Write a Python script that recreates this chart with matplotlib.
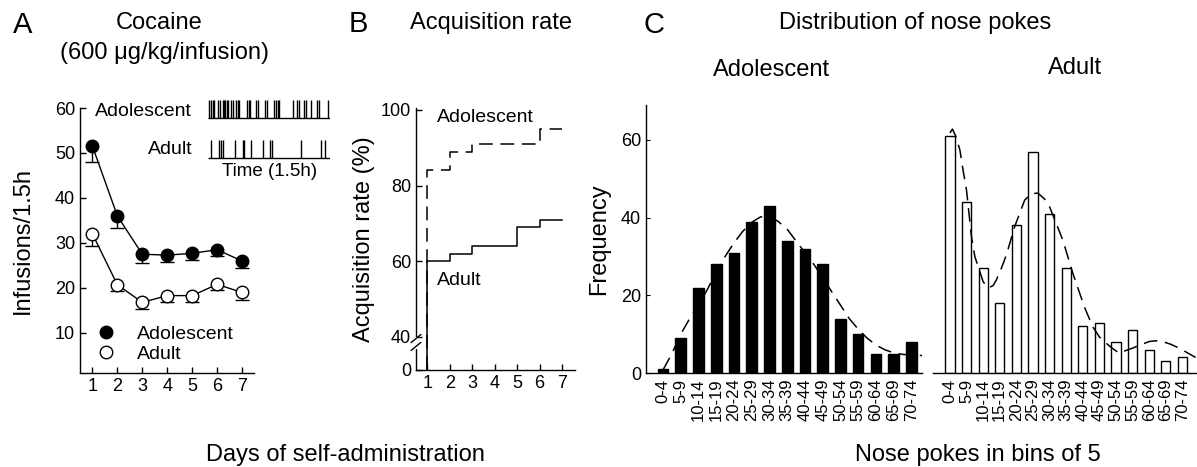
import numpy as np
import matplotlib
matplotlib.use("Agg")
import matplotlib.pyplot as plt
from matplotlib.lines import Line2D

plt.rcParams['font.family'] = ['Liberation Sans', 'DejaVu Sans']
plt.rcParams['axes.linewidth'] = 1.0

# Panel A: infusions per 1.5 h session (mean, lower SEM)
days = [1, 2, 3, 4, 5, 6, 7]
adol_inf = [51.5, 36.0, 27.5, 27.3, 27.7, 28.5, 26.0]
adol_sem = [3.5, 2.7, 2.0, 1.6, 1.5, 1.5, 1.5]
adult_inf = [32.0, 20.7, 16.8, 18.3, 18.3, 20.8, 19.0]
adult_sem = [2.7, 1.4, 1.5, 1.5, 1.5, 1.3, 1.6]

# Panel A inset: example infusion times (min within the 90 min session)
adol_times = [1.0, 2.2, 3.4, 4.7, 7.6, 8.8, 10.8, 11.8, 12.8, 13.8, 14.7, 17.0,
              18.2, 20.6, 22.1, 23.1, 28.5, 30.0, 31.0, 35.4, 37.1, 41.8, 43.3,
              48.7, 50.1, 51.6, 52.6, 62.4, 65.9, 67.4, 70.8, 72.3, 75.7, 80.6,
              81.6, 88.3]
adult_times = [2.2, 8.4, 9.6, 10.8, 19.9, 25.6, 26.8, 31.7, 40.8, 45.7, 47.2,
               68.6, 83.1, 86.5]

# Panel B: cumulative acquisition rate (%)
adol_acq = [84, 89, 91, 91, 91, 95, 95]
adult_acq = [60, 62, 64, 64, 69, 71, 71]

# Panel C: nose poke distribution
bin_labels = ['0-4', '5-9', '10-14', '15-19', '20-24', '25-29', '30-34', '35-39',
              '40-44', '45-49', '50-54', '55-59', '60-64', '65-69', '70-74']
adol_freq = [1, 9, 22, 28, 31, 39, 43, 34, 32, 28, 14, 10, 5, 5, 8]
adult_freq = [61, 44, 27, 18, 38, 57, 41, 27, 12, 13, 8, 11, 6, 3, 4]

# fitted curves (x in bin units)
adol_fit_x = [0, 0.5, 1, 1.5, 2, 2.5, 3, 3.5, 4, 4.5, 5, 5.5, 6, 6.5, 7, 7.5, 8,
              8.5, 9, 9.5, 10, 10.5, 11, 11.5, 12, 12.5, 13, 13.5, 14, 14.6]
adol_fit_y = [0.8, 5, 10, 14, 17.5, 21.5, 26, 30, 33.5, 36.5, 38.8, 40.2, 40.3,
              39, 37, 34, 31, 28, 24.5, 21, 17.5, 14, 11.3, 9, 7.2, 6, 5.2, 4.8,
              4.6, 4.5]
adult_fit_x = [0, 0.15, 0.35, 0.6, 0.8, 1.0, 1.3, 1.5, 1.7, 2.0, 2.3, 2.6, 2.8,
               3.1, 3.4, 3.9, 4.5, 4.9, 5.3, 5.7, 6.0, 6.4, 6.8, 7.4, 8.1, 8.6,
               9.0, 9.4, 9.8, 10.2, 10.6, 11.0, 11.5, 12.0, 12.4, 12.8, 13.3,
               13.8, 14.3, 14.8]
adult_fit_y = [61.8, 62.8, 61, 57.4, 52, 47, 35, 30, 27.4, 23.5, 21.9, 22.5, 24,
               27, 30.4, 37.7, 44.5, 46.2, 46.3, 44.8, 42.8, 38.5, 34.2, 25.7,
               17, 11.9, 9.3, 7.7, 6.3, 5.1, 5.8, 6.4, 7.3, 8.1, 8.3, 8.1, 7.4,
               6.4, 5.2, 4.0]

W, H = 1197, 467
fig = plt.figure(figsize=(W / 100, H / 100), dpi=100)


def px_axes(x0, y0, x1, y1):
    # axes from pixel box (top-left origin)
    return fig.add_axes([x0 / W, 1 - y1 / H, (x1 - x0) / W, (y1 - y0) / H])


def ftext(x, y, s, **kw):
    fig.text(x / W, 1 - y / H, s, **kw)


# ---------------- Panel A ----------------
axA = px_axes(80, 108, 254, 373)
for mean, sem in ((adol_inf, adol_sem), (adult_inf, adult_sem)):
    low = np.array(mean) - np.array(sem)
    # only the lower half of the error bar is drawn
    axA.vlines(days, low, mean, color='k', lw=1, zorder=1)
    axA.plot(days, low, ls='none', marker='_', ms=10, mew=1, color='k', zorder=1)
axA.plot(days, adol_inf, '-o', color='k', mfc='k', mec='k', ms=9, lw=1, zorder=3)
axA.plot(days, adult_inf, '-o', color='k', mfc='white', mec='k', ms=9, mew=1, lw=1, zorder=3)
axA.set_xlim(0.5, 7.48)
axA.set_ylim(1.1, 60)
axA.set_xticks(days)
axA.set_yticks([10, 20, 30, 40, 50, 60])
axA.tick_params(direction='in', length=4, labelsize=13, width=1)
axA.spines[['top', 'right']].set_visible(False)
axA.set_ylabel('Infusions/1.5h', fontsize=17, labelpad=15)
handles = [Line2D([], [], ls='none', marker='o', ms=9, mfc='k', mec='k'),
           Line2D([], [], ls='none', marker='o', ms=9, mfc='white', mec='k')]
axA.legend(handles, ['Adolescent', 'Adult'], loc='center left',
           bbox_to_anchor=(96 / W, 1 - 344 / H), bbox_transform=fig.transFigure,
           frameon=False, fontsize=14, handlelength=1.0, handletextpad=1.1,
           labelspacing=0.15, borderpad=0, borderaxespad=0)

# raster inset
axR = px_axes(208, 100, 330, 160)
axR.eventplot([adol_times, adult_times], lineoffsets=[51, 11], linelengths=18,
              colors='k', linewidths=1)
axR.hlines([42, 2], 0, 90, color='k', lw=1)
axR.set_xlim(0, 90)
axR.set_ylim(0, 60)
axR.axis('off')
ftext(192, 111, 'Adolescent', fontsize=14, ha='right', va='center')
ftext(193, 149, 'Adult', fontsize=14, ha='right', va='center')
ftext(270, 172, 'Time (1.5h)', fontsize=13.5, ha='center', va='center')

# ---------------- Panel B ----------------
def brk(v):
    # compress the 0-40 range below the axis break
    v = np.asarray(v, dtype=float)
    return np.where(v >= 40, v, 40 - (40 - v) * 8.72 / 40)


axB = px_axes(416, 108, 575, 370)
xb = [1] + days
axB.step(xb, brk([0] + adult_acq), where='post', color='k', lw=1.1)
axB.step(xb, brk([0] + adol_acq), where='post', color='k', lw=1.1,
         ls=(0, (9, 5)))
axB.set_xlim(0.5, 7.58)
axB.set_ylim(brk(0), 100.5)
axB.set_xticks(days)
yt = [0, 40, 60, 80, 100]
axB.set_yticks(brk(yt))
axB.set_yticklabels([str(v) for v in yt])
axB.tick_params(direction='in', length=4, labelsize=13, width=1)
axB.spines[['top', 'right']].set_visible(False)
axB.set_ylabel('Acquisition rate (%)', fontsize=17, labelpad=4)
axB.text(1.44, 97.9, 'Adolescent', fontsize=14, ha='left', va='center')
axB.text(1.44, 54.8, 'Adult', fontsize=14, ha='left', va='center')
# axis break marks
axB.plot([0, 0], [0.088, 0.118], transform=axB.transAxes, color='white',
         lw=3, clip_on=False, zorder=5)
for dy in (0.0, 0.03):
    axB.plot([-0.03, 0.03], [0.075 + dy, 0.105 + dy], transform=axB.transAxes,
             color='k', lw=1, clip_on=False, zorder=6)

# ---------------- Panel C ----------------
bins = np.arange(len(bin_labels))
axC1 = px_axes(646, 105, 922, 373)
axC1.bar(bins, adol_freq, width=0.6, color='k', edgecolor='k', zorder=2)
axC1.plot(adol_fit_x, adol_fit_y, color='k', lw=1.1, ls=(0, (9, 5)), zorder=3)
axC1.set_xlim(-0.96, 14.6)
axC1.set_ylim(0, 69)
axC1.set_yticks([0, 20, 40, 60])
axC1.set_xticks(bins)
axC1.set_xticklabels(bin_labels, rotation=90)
axC1.tick_params(axis='x', length=0, labelsize=12, pad=4)
axC1.tick_params(axis='y', direction='in', length=3, labelsize=13)
axC1.spines[['top', 'right']].set_visible(False)
axC1.set_ylabel('Frequency', fontsize=17, labelpad=8)

axC2 = px_axes(933, 105, 1197, 373)
axC2.bar(bins, adult_freq, width=0.55, facecolor='white', edgecolor='k', lw=1,
         zorder=2)
axC2.plot(adult_fit_x, adult_fit_y, color='k', lw=1.1, ls=(0, (9, 5)), zorder=3)
axC2.set_xlim(-1.02, 14.88)
axC2.set_ylim(0, 69)
axC2.set_xticks(bins)
axC2.set_xticklabels(bin_labels, rotation=90)
axC2.set_yticks([])
axC2.tick_params(axis='x', length=0, labelsize=12, pad=4)
axC2.spines[['top', 'right', 'left']].set_visible(False)

# ---------------- text ----------------
ftext(23, 25, 'A', fontsize=21, ha='center', va='center')
ftext(159, 23, 'Cocaine', fontsize=17, ha='center', va='center')
ftext(165, 53, '(600 \u03bcg/kg/infusion)', fontsize=17, ha='center', va='center')
ftext(358, 24, 'B', fontsize=21, ha='center', va='center')
ftext(491, 23, 'Acquisition rate', fontsize=17, ha='center', va='center')
ftext(654, 25, 'C', fontsize=21, ha='center', va='center')
ftext(915, 23, 'Distribution of nose pokes', fontsize=17, ha='center', va='center')
ftext(772, 70, 'Adolescent', fontsize=17, ha='center', va='center')
ftext(1075, 68, 'Adult', fontsize=17, ha='center', va='center')
ftext(345, 455, 'Days of self-administration', fontsize=17, ha='center', va='center')
ftext(978, 455, 'Nose pokes in bins of 5', fontsize=17, ha='center', va='center')

fig.savefig('out.png', dpi=100)
